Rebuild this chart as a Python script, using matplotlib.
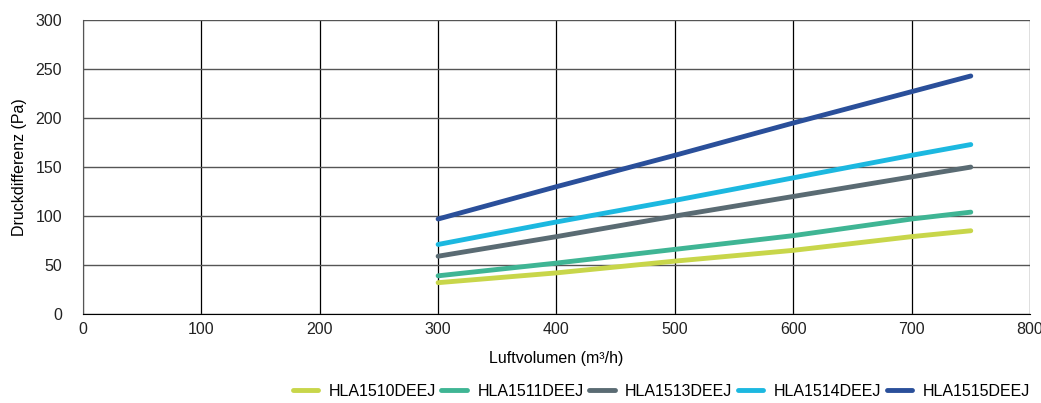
import matplotlib
matplotlib.use('Agg')
import matplotlib.pyplot as plt

plt.rcParams['font.family'] = ['Liberation Sans', 'DejaVu Sans']

# Luftvolumen (m3/h)
x_vals = [300, 400, 500, 600, 700, 750]

# Druckdifferenz (Pa) per model
hla1510 = [32, 42, 54, 65, 79, 85]
hla1511 = [39, 52, 66, 80, 97, 104]
hla1513 = [59, 79, 100, 120, 140, 150]
hla1514 = [71, 94, 116, 139, 162, 173]
hla1515 = [97, 130, 162, 195, 227, 243]

names = ['HLA1510DEEJ', 'HLA1511DEEJ', 'HLA1513DEEJ', 'HLA1514DEEJ', 'HLA1515DEEJ']
colors = ['#c8d64a', '#3fb594', '#5a6b73', '#1cb8e0', '#2a4f9a']

fig = plt.figure(figsize=(10.41, 4.03), dpi=100)
ax = fig.add_axes([0.0797, 0.2208, 0.9097, 0.7292])

for y, name, c in zip([hla1510, hla1511, hla1513, hla1514, hla1515], names, colors):
    ax.plot(x_vals, y, color=c, lw=3.5, solid_capstyle='round', label=name, zorder=3)

ax.set_xlim(0, 800)
ax.set_ylim(0, 300)
ax.set_xticks(range(0, 801, 100))
ax.set_yticks(range(0, 301, 50))
ax.xaxis.grid(True, color='black', lw=0.9)
ax.yaxis.grid(True, color='#555555', lw=1.0)
ax.tick_params(length=0, labelsize=11.5, colors='#222222')
ax.tick_params(axis='y', pad=15)
ax.tick_params(axis='x', pad=6)
for s in ['top', 'right']:
    ax.spines[s].set_visible(False)
ax.spines['left'].set_color('#555555')
ax.spines['bottom'].set_color('black')

ax.set_xlabel('Luftvolumen (m³/h)', fontsize=11.5, labelpad=10)
ax.set_ylabel('Druckdifferenz (Pa)', fontsize=11.5, labelpad=6)

ax.legend(loc='center right', bbox_to_anchor=(1.0, -0.262), ncol=5, frameon=False,
          fontsize=11.5, handlelength=1.6, handletextpad=0.65, columnspacing=0.35,
          borderpad=0, borderaxespad=0)

fig.savefig('out.png', dpi=100)
